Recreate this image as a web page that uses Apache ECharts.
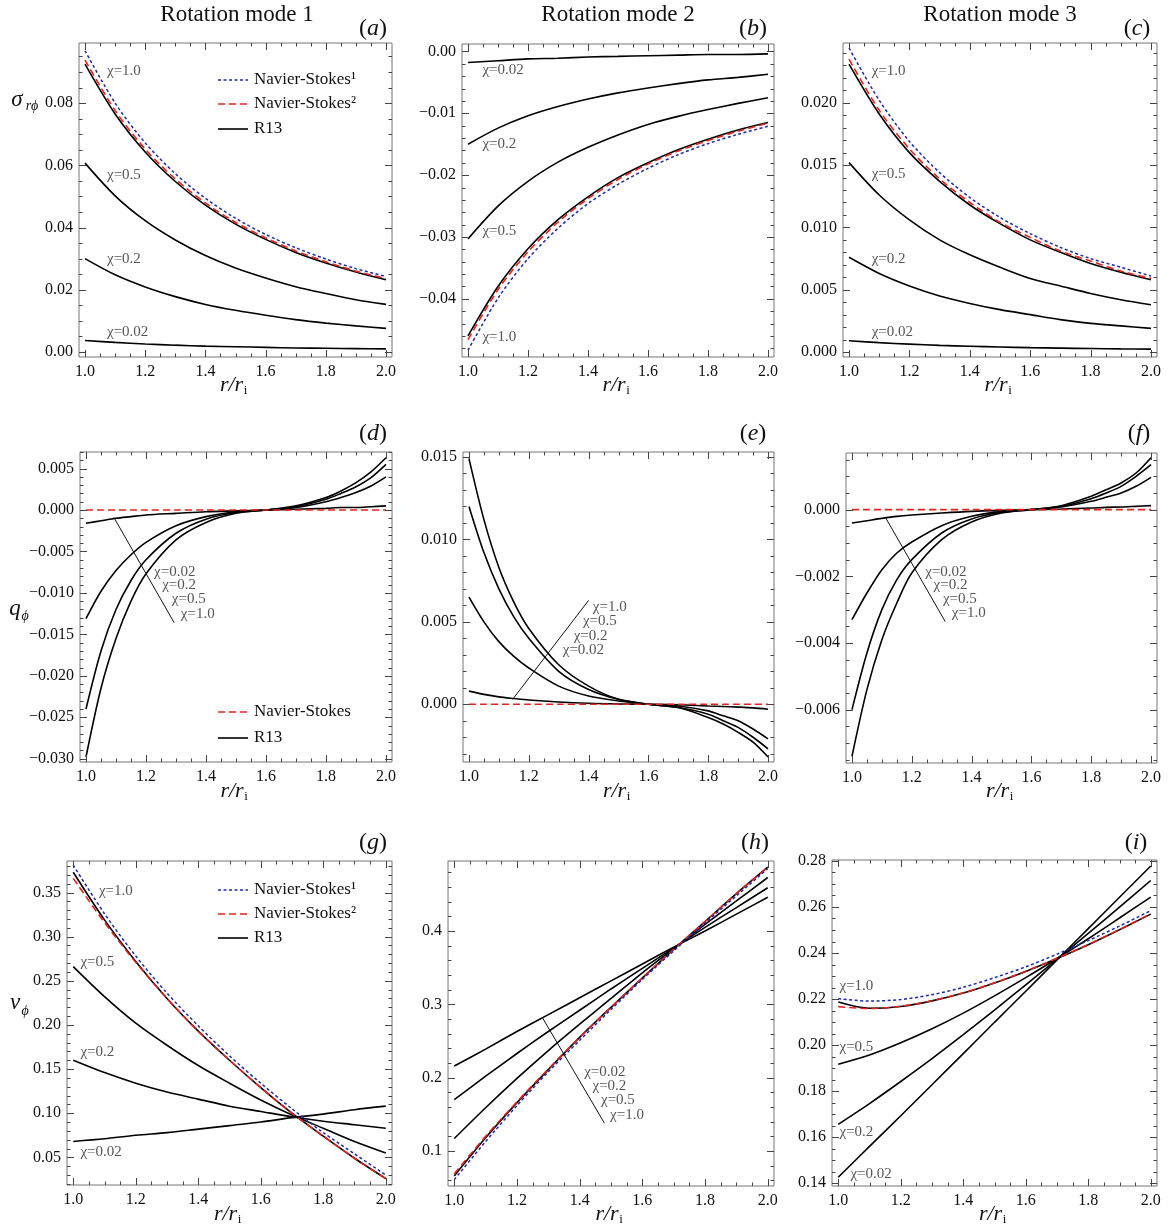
<!DOCTYPE html>
<html>
<head>
<meta charset="utf-8">
<script src="https://cdn.jsdelivr.net/npm/echarts@6/dist/echarts.min.js"></script>
<style>
  html, body { margin: 0; padding: 0; background: #fff; }
  #chart { width: 1170px; height: 1231px; }
</style>
</head>
<body>
<div id="chart"></div>
<script>
// radius grids (r / r_i)
const R = [1.0, 1.1, 1.2, 1.3, 1.4, 1.5, 1.6, 1.7, 1.8, 1.9, 2.0];
const RQ = [1.0, 1.05, 1.1, 1.15, 1.2, 1.3, 1.4, 1.5, 1.6, 1.7, 1.8, 1.85, 1.9, 1.95, 2.0];

// tick labels
const X_TICKS = [1.0, 1.2, 1.4, 1.6, 1.8, 2.0];
const TICKS_A = [0, 0.02, 0.04, 0.06, 0.08];
const TICKS_B = [-0.04, -0.03, -0.02, -0.01, 0];
const TICKS_C = [0, 0.005, 0.01, 0.015, 0.02];
const TICKS_D = [-0.03, -0.025, -0.02, -0.015, -0.01, -0.005, 0, 0.005];
const TICKS_E = [0, 0.005, 0.01, 0.015];
const TICKS_F = [-0.006, -0.004, -0.002, 0];
const TICKS_G = [0.05, 0.1, 0.15, 0.2, 0.25, 0.3, 0.35];
const TICKS_H = [0.1, 0.2, 0.3, 0.4];
const TICKS_I = [0.14, 0.16, 0.18, 0.2, 0.22, 0.24, 0.26, 0.28];

// (a) sigma_rphi, mode 1
const a_ns1 = [0.0968, 0.0800, 0.0672, 0.0573, 0.0494, 0.0430, 0.0378, 0.0335, 0.0299, 0.0268, 0.0243];
const a_ns2 = [0.0938, 0.0776, 0.0652, 0.0556, 0.0479, 0.0417, 0.0367, 0.0325, 0.0290, 0.0260, 0.0236];
const a_chi10 = [0.0925, 0.0765, 0.0643, 0.0548, 0.0472, 0.0411, 0.0362, 0.0320, 0.0286, 0.0257, 0.0232];
const a_chi05 = [0.0607, 0.0502, 0.0422, 0.0360, 0.0310, 0.0270, 0.0238, 0.0210, 0.0188, 0.0168, 0.0153];
const a_chi02 = [0.0300, 0.0248, 0.0209, 0.0178, 0.0153, 0.0134, 0.0118, 0.0104, 0.0093, 0.0084, 0.0076];
const a_chi002 = [0.0037, 0.0031, 0.0026, 0.0022, 0.0019, 0.0017, 0.0015, 0.0013, 0.0012, 0.0011, 0.0010];

// (b) sigma_rphi, mode 2
const b_ns1 = [-0.0483, -0.0399, -0.0335, -0.0286, -0.0246, -0.0215, -0.0189, -0.0167, -0.0149, -0.0134, -0.0121];
const b_ns2 = [-0.0466, -0.0385, -0.0324, -0.0276, -0.0238, -0.0207, -0.0182, -0.0161, -0.0144, -0.0129, -0.0116];
const b_chi10 = [-0.0460, -0.0380, -0.0319, -0.0272, -0.0235, -0.0204, -0.0180, -0.0159, -0.0142, -0.0127, -0.0115];
const b_chi05 = [-0.0303, -0.0250, -0.0210, -0.0179, -0.0155, -0.0135, -0.0118, -0.0105, -0.0094, -0.0084, -0.0075];
const b_chi02 = [-0.0150, -0.0124, -0.0104, -0.0089, -0.0077, -0.0067, -0.0059, -0.0052, -0.0046, -0.0042, -0.0037];
const b_chi002 = [-0.0018, -0.0015, -0.0012, -0.0011, -0.0009, -0.0008, -0.0007, -0.0006, -0.0005, -0.0005, -0.0004];

// (c) sigma_rphi, mode 3
const c_ns1 = [0.0244, 0.0202, 0.0169, 0.0144, 0.0124, 0.0108, 0.0095, 0.0084, 0.0075, 0.0068, 0.0061];
const c_ns2 = [0.0235, 0.0194, 0.0163, 0.0139, 0.0120, 0.0104, 0.0092, 0.0081, 0.0073, 0.0065, 0.0059];
const c_chi10 = [0.0231, 0.0191, 0.0160, 0.0137, 0.0118, 0.0103, 0.0090, 0.0080, 0.0071, 0.0064, 0.0058];
const c_chi05 = [0.0152, 0.0126, 0.0106, 0.0090, 0.0078, 0.0068, 0.0059, 0.0053, 0.0047, 0.0042, 0.0038];
const c_chi02 = [0.0076, 0.0063, 0.0053, 0.0045, 0.0039, 0.0034, 0.0030, 0.0026, 0.0023, 0.0021, 0.0019];
const c_chi002 = [0.0009, 0.00075, 0.00063, 0.00053, 0.00046, 0.0004, 0.00035, 0.00031, 0.00028, 0.00025, 0.00023];

// (d) q_phi, mode 1 (on RQ)
const d_ns = [0, 0, 0, 0, 0, 0, 0, 0, 0, 0, 0, 0, 0, 0, 0];
const d_chi10 = [-0.0298, -0.0215, -0.0155, -0.0110, -0.0077, -0.0036, -0.0015, -0.0004, 0.0000, 0.0005, 0.0015, 0.0023, 0.0033, 0.0046, 0.0063];
const d_chi05 = [-0.0240, -0.0170, -0.0120, -0.0085, -0.0060, -0.0028, -0.0011, -0.0003, 0.0000, 0.0004, 0.0013, 0.0020, 0.0028, 0.0039, 0.0055];
const d_chi02 = [-0.0131, -0.0098, -0.0073, -0.0054, -0.0039, -0.0019, -0.0008, -0.0002, 0.0000, 0.0003, 0.0010, 0.0015, 0.0021, 0.0029, 0.0040];
const d_chi002 = [-0.0016, -0.0013, -0.0010, -0.0008, -0.0006, -0.0004, -0.0002, -0.0001, 0.0000, 0.0001, 0.0002, 0.0003, 0.0003, 0.0004, 0.0005];

// (e) q_phi, mode 2
const e_ns = [0, 0, 0, 0, 0, 0, 0, 0, 0, 0, 0, 0, 0, 0, 0];
const e_chi10 = [0.0149, 0.0112, 0.0083, 0.0062, 0.0046, 0.0024, 0.0011, 0.0003, 0.0000, -0.0002, -0.0008, -0.0012, -0.0017, -0.0023, -0.0032];
const e_chi05 = [0.0120, 0.0092, 0.0070, 0.0053, 0.0040, 0.0020, 0.0009, 0.0003, 0.0000, -0.0002, -0.0006, -0.0010, -0.0014, -0.0020, -0.0027];
const e_chi02 = [0.0065, 0.0050, 0.0038, 0.0029, 0.0022, 0.0011, 0.0005, 0.0002, 0.0000, -0.0001, -0.0004, -0.0007, -0.0010, -0.0015, -0.0021];
const e_chi002 = [0.0008, 0.0006, 0.00045, 0.00035, 0.00026, 0.00014, 0.00006, 0.00002, 0.0000, -0.00003, -0.0001, -0.00013, -0.00017, -0.00022, -0.0003];

// (f) q_phi, mode 3
const f_ns = [0, 0, 0, 0, 0, 0, 0, 0, 0, 0, 0, 0, 0, 0, 0];
const f_chi10 = [-0.0074, -0.0054, -0.0039, -0.0028, -0.0019, -0.0009, -0.00037, -0.0001, 0.0000, 0.00012, 0.0004, 0.0006, 0.0008, 0.0011, 0.00156];
const f_chi05 = [-0.0060, -0.0043, -0.0030, -0.0021, -0.0015, -0.0007, -0.00028, -0.00008, 0.0000, 0.0001, 0.00033, 0.0005, 0.0007, 0.0010, 0.00135];
const f_chi02 = [-0.0033, -0.0025, -0.0018, -0.0013, -0.00097, -0.00048, -0.0002, -0.00005, 0.0000, 0.00008, 0.00025, 0.00037, 0.0005, 0.0007, 0.00097];
const f_chi002 = [-0.0004, -0.00033, -0.00026, -0.0002, -0.00016, -0.0001, -0.00005, -0.00002, 0.0000, 0.00002, 0.00005, 0.00007, 0.00008, 0.0001, 0.00012];

// (g) v_phi, mode 1
const g_ns1 = [0.381, 0.326, 0.278, 0.236, 0.199, 0.165, 0.134, 0.105, 0.078, 0.054, 0.030];
const g_ns2 = [0.366, 0.316, 0.271, 0.230, 0.193, 0.160, 0.129, 0.100, 0.074, 0.049, 0.026];
const g_chi10 = [0.373, 0.319, 0.272, 0.230, 0.193, 0.160, 0.129, 0.100, 0.074, 0.049, 0.026];
const g_chi05 = [0.266, 0.232, 0.202, 0.177, 0.154, 0.134, 0.115, 0.098, 0.083, 0.068, 0.055];
const g_chi02 = [0.160, 0.146, 0.134, 0.124, 0.116, 0.108, 0.102, 0.096, 0.091, 0.087, 0.083];
const g_chi002 = [0.068, 0.071, 0.075, 0.078, 0.082, 0.086, 0.090, 0.095, 0.099, 0.104, 0.108];

// (h) v_phi, mode 2
const h_ns1 = [0.061, 0.113, 0.162, 0.208, 0.251, 0.293, 0.334, 0.373, 0.411, 0.448, 0.485];
const h_ns2 = [0.069, 0.120, 0.167, 0.212, 0.255, 0.296, 0.336, 0.375, 0.413, 0.451, 0.487];
const h_chi10 = [0.066, 0.118, 0.166, 0.211, 0.255, 0.296, 0.336, 0.375, 0.413, 0.451, 0.487];
const h_chi05 = [0.117, 0.159, 0.199, 0.237, 0.273, 0.308, 0.343, 0.376, 0.409, 0.441, 0.473];
const h_chi02 = [0.170, 0.202, 0.233, 0.263, 0.292, 0.321, 0.349, 0.377, 0.405, 0.432, 0.459];
const h_chi002 = [0.216, 0.239, 0.263, 0.286, 0.309, 0.332, 0.355, 0.378, 0.400, 0.423, 0.446];

// (i) v_phi, mode 3
const i_ns1 = [0.2202, 0.2191, 0.2198, 0.2219, 0.2251, 0.2293, 0.2340, 0.2395, 0.2454, 0.2517, 0.2584];
const i_ns2 = [0.2167, 0.2159, 0.2169, 0.2193, 0.2227, 0.2271, 0.2321, 0.2377, 0.2437, 0.2502, 0.2570];
const i_chi10 = [0.2187, 0.2160, 0.2168, 0.2192, 0.2226, 0.2270, 0.2320, 0.2376, 0.2436, 0.2501, 0.2569];
const i_chi05 = [0.1917, 0.1957, 0.2010, 0.2071, 0.2139, 0.2214, 0.2293, 0.2376, 0.2462, 0.2552, 0.2643];
const i_chi02 = [0.1656, 0.1746, 0.1842, 0.1941, 0.2045, 0.2152, 0.2262, 0.2373, 0.2485, 0.2599, 0.2715];
const i_chi002 = [0.1426, 0.1560, 0.1693, 0.1828, 0.1963, 0.2099, 0.2234, 0.2370, 0.2506, 0.2642, 0.2778];

// chi annotations [x, y, text] and pointer lines
const chiA = [[1.073, 0.0902, 'χ=1.0'], [1.073, 0.0569, 'χ=0.5'], [1.073, 0.0299, 'χ=0.2'], [1.073, 0.0064, 'χ=0.02']];
const chiB = [[1.048, -0.0030, 'χ=0.02'], [1.048, -0.0149, 'χ=0.2'], [1.048, -0.0290, 'χ=0.5'], [1.048, -0.0462, 'χ=1.0']];
const chiC = [[1.075, 0.02254, 'χ=1.0'], [1.075, 0.0143, 'χ=0.5'], [1.075, 0.00744, 'χ=0.2'], [1.075, 0.00161, 'χ=0.02']];
const chiD = [[1.227, -0.00746, 'χ=0.02'], [1.254, -0.00907, 'χ=0.2'], [1.286, -0.0108, 'χ=0.5'], [1.316, -0.0125, 'χ=1.0']];
const chiE = [[1.414, 0.00592, 'χ=1.0'], [1.381, 0.00505, 'χ=0.5'], [1.350, 0.00414, 'χ=0.2'], [1.3135, 0.00329, 'χ=0.02']];
const chiF = [[1.245, -0.00186, 'χ=0.02'], [1.273, -0.00226, 'χ=0.2'], [1.304, -0.00269, 'χ=0.5'], [1.334, -0.00311, 'χ=1.0']];
const chiG = [[1.082, 0.352, 'χ=1.0'], [1.023, 0.2708, 'χ=0.5'], [1.023, 0.1696, 'χ=0.2'], [1.023, 0.0564, 'χ=0.02']];
const chiH = [[1.4145, 0.2077, 'χ=0.02'], [1.441, 0.1886, 'χ=0.2'], [1.468, 0.1691, 'χ=0.5'], [1.497, 0.1495, 'χ=1.0']];
const chiI = [[1.004, 0.2255, 'χ=1.0'], [1.004, 0.1991, 'χ=0.5'], [1.004, 0.1624, 'χ=0.2'], [1.039, 0.1441, 'χ=0.02']];
const ptrD = [[1.093, -0.0009], [1.294, -0.0136]];
const ptrE = [[1.146, 0.0003], [1.40, 0.0063]];
const ptrF = [[1.111, -0.00022], [1.312, -0.00336]];
const ptrH = [[1.281, 0.282], [1.479, 0.138]];

const SERIF = "Liberation Serif, DejaVu Serif, serif";
const FRAME = '#777';
const TICK = '#444';
const BLUE = '#1c2aa8';
const RED = '#e5231d';
const TXT = '#111';

const zip = (xs, ys) => ys.map((y, i) => [xs[i], y]);

// layout of each panel: [left, top, width, height], y range, minor step, decimals
const panels = [
  { rect: [79, 43, 313, 314], y: [-0.0016, 0.0993], ticks: TICKS_A, minor: 0.005, dec: 2, xs: R,
    curves: [[a_chi10, 'r13'], [a_chi05, 'r13'], [a_chi02, 'r13'], [a_chi002, 'r13'], [a_ns2, 'ns2'], [a_ns1, 'ns1']], chi: chiA },
  { rect: [462, 44, 312, 313], y: [-0.0494, 0.0012], ticks: TICKS_B, minor: 0.002, dec: 2, xs: R,
    curves: [[b_chi10, 'r13'], [b_chi05, 'r13'], [b_chi02, 'r13'], [b_chi002, 'r13'], [b_ns2, 'ns2'], [b_ns1, 'ns1']], chi: chiB },
  { rect: [843, 43, 314, 314], y: [-0.0004, 0.0248], ticks: TICKS_C, minor: 0.001, dec: 3, xs: R,
    curves: [[c_chi10, 'r13'], [c_chi05, 'r13'], [c_chi02, 'r13'], [c_chi002, 'r13'], [c_ns2, 'ns2'], [c_ns1, 'ns1']], chi: chiC },
  { rect: [80, 452, 312, 310], y: [-0.0304, 0.0070], ticks: TICKS_D, minor: 0.001, dec: 3, xs: RQ,
    curves: [[d_chi10, 'r13'], [d_chi05, 'r13'], [d_chi02, 'r13'], [d_chi002, 'r13'], [d_ns, 'ns2']], chi: chiD, ptr: ptrD },
  { rect: [463, 452, 311, 310], y: [-0.0035, 0.0153], ticks: TICKS_E, minor: 0.001, dec: 3, xs: RQ,
    curves: [[e_chi10, 'r13'], [e_chi05, 'r13'], [e_chi02, 'r13'], [e_chi002, 'r13'], [e_ns, 'ns2']], chi: chiE, ptr: ptrE },
  { rect: [846, 453, 311, 310], y: [-0.0076, 0.0017], ticks: TICKS_F, minor: 0.0005, dec: 3, xs: RQ,
    curves: [[f_chi10, 'r13'], [f_chi05, 'r13'], [f_chi02, 'r13'], [f_chi002, 'r13'], [f_ns, 'ns2']], chi: chiF, ptr: ptrF },
  { rect: [67, 861, 325, 324], y: [0.0187, 0.3857], ticks: TICKS_G, minor: 0.01, dec: 2, xs: R,
    curves: [[g_chi10, 'r13'], [g_chi05, 'r13'], [g_chi02, 'r13'], [g_chi002, 'r13'], [g_ns2, 'ns2'], [g_ns1, 'ns1']], chi: chiG },
  { rect: [448, 861, 326, 325], y: [0.0523, 0.4955], ticks: TICKS_H, minor: 0.02, dec: 1, xs: R,
    curves: [[h_chi002, 'r13'], [h_chi02, 'r13'], [h_chi05, 'r13'], [h_chi10, 'r13'], [h_ns2, 'ns2'], [h_ns1, 'ns1']], chi: chiH, ptr: ptrH },
  { rect: [832, 860, 325, 326], y: [0.1388, 0.2804], ticks: TICKS_I, minor: 0.005, dec: 2, xs: R,
    curves: [[i_chi002, 'r13'], [i_chi02, 'r13'], [i_chi05, 'r13'], [i_chi10, 'r13'], [i_ns2, 'ns2'], [i_ns1, 'ns1']], chi: chiI }
];

const XMIN = 0.98, XMAX = 2.02;

function steps(min, max, step) {
  const out = [];
  const n0 = Math.ceil(min / step - 1e-9), n1 = Math.floor(max / step + 1e-9);
  for (let n = n0; n <= n1; n++) out.push(+(n * step).toFixed(8));
  return out;
}

const fmt = (v, dec) => (v < -1e-12 ? '\u2212' : '') + Math.abs(v).toFixed(dec);

const lineStyles = {
  r13: { color: '#000', width: 1.6, type: 'solid' },
  ns2: { color: RED, width: 1.6, type: [7, 4] },
  ns1: { color: BLUE, width: 1.5, type: [3, 2.5] }
};

const grids = [], xAxes = [], yAxes = [], series = [], graphic = [];

// frame ticks on all four sides (major + minor), drawn as plain strokes
function frameTicks(p) {
  const [L, T, W, H] = p.rect;
  const xpx = v => L + (v - XMIN) / (XMAX - XMIN) * W;
  const ypx = v => T + H - (v - p.y[0]) / (p.y[1] - p.y[0]) * H;
  const seg = (x1, y1, x2, y2) => graphic.push({ type: 'line', silent: true, z: 10,
    shape: { x1, y1, x2, y2 }, style: { stroke: TICK, lineWidth: 1 } });
  steps(XMIN, XMAX, 0.05).forEach(v => {
    const len = X_TICKS.some(t => Math.abs(t - v) < 1e-6) ? 7 : 3.5;
    const x = Math.round(xpx(v)) + 0.5;
    seg(x, T + H, x, T + H - len);
    seg(x, T, x, T + len);
  });
  steps(p.y[0], p.y[1], p.minor).forEach(v => {
    const len = p.ticks.some(t => Math.abs(t - v) < 1e-9) ? 7 : 3.5;
    const y = Math.round(ypx(v)) + 0.5;
    seg(L, y, L + len, y);
    seg(L + W, y, L + W - len, y);
  });
}

panels.forEach((p, gi) => {
  grids.push({ left: p.rect[0], top: p.rect[1], width: p.rect[2], height: p.rect[3],
    show: true, borderColor: FRAME, borderWidth: 1, backgroundColor: 'transparent',
    containLabel: false, outerBoundsMode: 'none' });

  const base = { type: 'value', gridIndex: gi, splitLine: { show: false },
    axisLine: { show: false, onZero: false }, axisTick: { show: false } };

  xAxes.push({ ...base, min: XMIN, max: XMAX, position: 'bottom',
    axisLabel: { customValues: X_TICKS, formatter: v => v.toFixed(1), margin: 7, fontFamily: SERIF, fontSize: 16, color: TXT } });
  yAxes.push({ ...base, min: p.y[0], max: p.y[1], position: 'left',
    axisLabel: { customValues: p.ticks, formatter: v => fmt(v, p.dec), margin: 6, fontFamily: SERIF, fontSize: 16, color: TXT } });

  frameTicks(p);

  const ax = { xAxisIndex: gi, yAxisIndex: gi };

  p.curves.forEach(([ys, kind]) => {
    series.push({ type: 'line', ...ax, data: zip(p.xs, ys), smooth: 0.3,
      showSymbol: false, silent: true, clip: true, lineStyle: lineStyles[kind],
      z: kind === 'r13' ? 2 : (kind === 'ns2' ? 3 : 4) });
  });

  if (p.ptr) {
    series.push({ type: 'line', ...ax, data: p.ptr, showSymbol: false, silent: true,
      lineStyle: { color: '#111', width: 1 }, z: 5 });
  }

  series.push({ type: 'scatter', ...ax, symbolSize: 0, silent: true, z: 6,
    data: p.chi.map(c => ({ value: [c[0], c[1]], name: c[2] })),
    label: { show: true, position: 'right', distance: 0, formatter: d => d.name,
      fontFamily: SERIF, fontSize: 15, color: '#2a2a2a' } });
});

// decorations: titles, panel letters, axis names, legends
const txt = (x, y, text, size, opt = {}) => graphic.push({ type: 'text', x, y, silent: true,
  style: { text, fontSize: size, fontFamily: SERIF, fill: TXT, align: 'center', verticalAlign: 'middle', ...opt } });

txt(237, 15, 'Rotation mode 1', 23);
txt(618, 15, 'Rotation mode 2', 23);
txt(1000, 15, 'Rotation mode 3', 23);

const letters = [['a', 373, 29], ['b', 753, 29], ['c', 1137, 29], ['d', 373, 434], ['e', 753, 434], ['f', 1139, 434], ['g', 373, 843], ['h', 755, 843], ['i', 1136, 843]];
letters.forEach(([l, x, y]) => graphic.push({ type: 'text', x, y, silent: true,
  style: { text: '({it|' + l + '})', fontSize: 24, fontFamily: SERIF, fill: TXT, align: 'center', verticalAlign: 'middle',
    rich: { it: { fontStyle: 'italic', fontSize: 24, fontFamily: SERIF, fill: TXT } } } }));

// r/r_i under every panel
const xName = (cx, cy) => {
  txt(cx - 4, cy, 'r/r', 22, { fontStyle: 'italic' });
  txt(cx + 10, cy + 6, 'i', 13);
};
panels.forEach((p, gi) => {
  const row = Math.floor(gi / 3);
  xName(p.rect[0] + p.rect[2] / 2, [385, 791, 1214][row]);
});

// y names
txt(17, 100, 'σ', 23, { fontStyle: 'italic' });
txt(32, 106, 'rϕ', 14, { fontStyle: 'italic' });
txt(15, 609, 'q', 23, { fontStyle: 'italic' });
txt(25, 616, 'ϕ', 14, { fontStyle: 'italic' });
txt(15, 1003, 'v', 23, { fontStyle: 'italic' });
txt(25, 1011, 'ϕ', 14, { fontStyle: 'italic' });

const legendRow = (y, kind, label) => {
  const ls = lineStyles[kind];
  graphic.push({ type: 'line', silent: true, shape: { x1: 218, y1: y, x2: 248, y2: y },
    style: { stroke: ls.color, lineWidth: ls.width, lineDash: Array.isArray(ls.type) ? ls.type : null } });
  txt(254, y, label, 17, { align: 'left' });
};
legendRow(80, 'ns1', 'Navier-Stokes¹');
legendRow(104, 'ns2', 'Navier-Stokes²');
legendRow(129, 'r13', 'R13');
legendRow(712, 'ns2', 'Navier-Stokes');
legendRow(738, 'r13', 'R13');
legendRow(890, 'ns1', 'Navier-Stokes¹');
legendRow(914, 'ns2', 'Navier-Stokes²');
legendRow(938, 'r13', 'R13');

const chart = echarts.init(document.getElementById('chart'), null, { renderer: 'canvas' });
chart.setOption({
  animation: false,
  backgroundColor: '#fff',
  grid: grids,
  xAxis: xAxes,
  yAxis: yAxes,
  series: series,
  graphic: graphic
});
</script>
</body>
</html>
